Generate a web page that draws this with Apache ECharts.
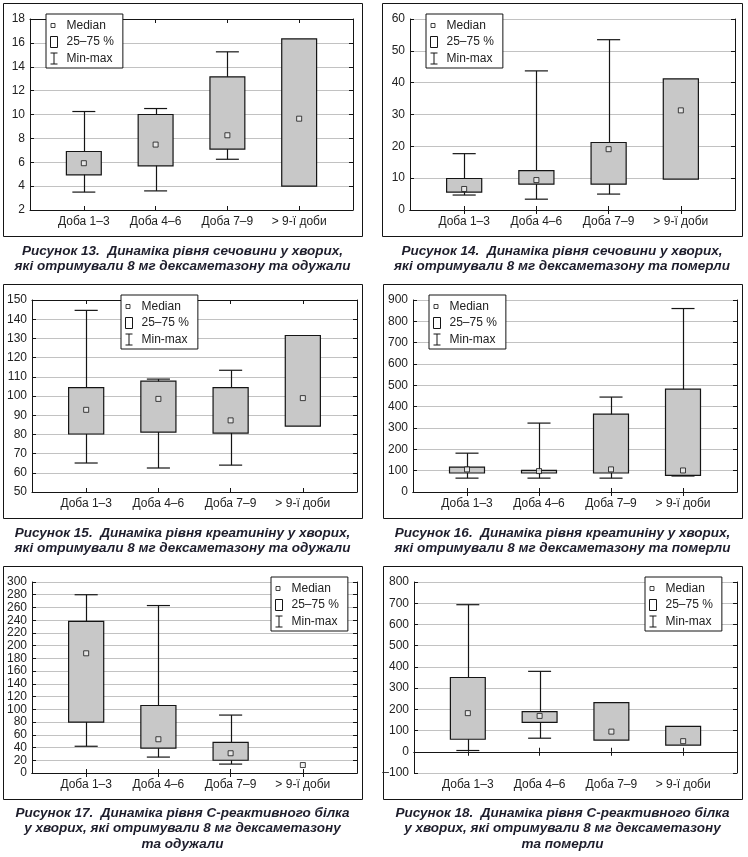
<!DOCTYPE html>
<html><head><meta charset="utf-8">
<script src="https://cdn.jsdelivr.net/npm/echarts@6/dist/echarts.min.js"></script>
<style>html,body{margin:0;padding:0;background:#fff}#c{width:748px;height:857px}</style>
</head><body><div id="c"></div><script>
// ---- data ----
const categories = ["Доба 1–3", "Доба 4–6", "Доба 7–9", "> 9-ї доби"];
const legendNames = ["Median", "25–75 %", "Min-max"];

// Рисунок 13 – сечовина, одужали
const p13Min = [3.5, 3.6, 6.25, null];
const p13Q1  = [4.95, 5.7, 7.1, 4.0];
const p13Med = [5.92, 7.48, 8.26, 9.65];
const p13Q3  = [6.9, 10.0, 13.16, 16.33];
const p13Max = [10.25, 10.5, 15.25, null];
const p13Axis = [2, 18, 2];

// Рисунок 14 – сечовина, померли
const p14Min = [4.7, 3.4, 5.0, null];
const p14Q1  = [5.6, 8.1, 8.1, 9.7];
const p14Med = [6.6, 9.4, 19.1, 31.3];
const p14Q3  = [9.9, 12.4, 21.2, 41.2];
const p14Max = [17.7, 43.7, 53.5, null];
const p14Axis = [0, 60, 10];

// Рисунок 15 – креатинін, одужали
const p15Min = [65.1, 62.5, 64.0, null];
const p15Q1  = [80.2, 81.2, 80.7, 84.3];
const p15Med = [92.8, 98.5, 87.3, 98.9];
const p15Q3  = [104.4, 107.7, 104.4, 131.5];
const p15Max = [144.6, 108.8, 113.4, null];
const p15Axis = [50, 150, 10];

// Рисунок 16 – креатинін, померли
const p16Min = [65, 65, 65, 75];
const p16Q1  = [89, 89, 89, 78];
const p16Med = [106, 98, 106, 101];
const p16Q3  = [117, 101, 365, 482];
const p16Max = [182, 323, 445, 860];
const p16Axis = [0, 900, 100];

// Рисунок 17 – С-реактивний білок, одужали
const p17Min = [42, 25, 14, null];
const p17Q1  = [80, 39, 20, null];
const p17Med = [188, 53, 31, 12.5];
const p17Q3  = [238, 106, 48, null];
const p17Max = [280, 263, 91, null];
const p17Axis = [0, 300, 20];

// Рисунок 18 – С-реактивний білок, померли
const p18Min = [6, 64, null, null];
const p18Q1  = [59, 139, 55, 31];
const p18Med = [182, 169, 95, 50];
const p18Q3  = [350, 189, 232, 120];
const p18Max = [693, 379, null, null];
const p18Axis = [-100, 800, 100];

const caption13 = ["Рисунок 13.  Динаміка рівня сечовини у хворих,", "які отримували 8 мг дексаметазону та одужали"];
const caption14 = ["Рисунок 14.  Динаміка рівня сечовини у хворих,", "які отримували 8 мг дексаметазону та померли"];
const caption15 = ["Рисунок 15.  Динаміка рівня креатиніну у хворих,", "які отримували 8 мг дексаметазону та одужали"];
const caption16 = ["Рисунок 16.  Динаміка рівня креатиніну у хворих,", "які отримували 8 мг дексаметазону та померли"];
const caption17 = ["Рисунок 17.  Динаміка рівня С-реактивного білка", "у хворих, які отримували 8 мг дексаметазону", "та одужали"];
const caption18 = ["Рисунок 18.  Динаміка рівня С-реактивного білка", "у хворих, які отримували 8 мг дексаметазону", "та померли"];

// ---- layout ----
const panels = [
  {min:p13Min,q1:p13Q1,med:p13Med,q3:p13Q3,max:p13Max,axis:p13Axis,cap:caption13,
   grid:{left:30,top:19,width:323,height:191}, leg:{left:46,top:14}, frame:[3,3,359,233], capX:182.5, capY:251},
  {min:p14Min,q1:p14Q1,med:p14Med,q3:p14Q3,max:p14Max,axis:p14Axis,cap:caption14,
   grid:{left:410,top:19,width:325,height:191}, leg:{left:426,top:14}, frame:[382,3,360,233], capX:562, capY:251},
  {min:p15Min,q1:p15Q1,med:p15Med,q3:p15Q3,max:p15Max,axis:p15Axis,cap:caption15,
   grid:{left:32,top:300,width:325,height:192}, leg:{left:121,top:295}, frame:[3,284,359,234], capX:182.5, capY:533},
  {min:p16Min,q1:p16Q1,med:p16Med,q3:p16Q3,max:p16Max,axis:p16Axis,cap:caption16,
   grid:{left:413,top:300,width:324,height:192}, leg:{left:429,top:295}, frame:[383,284,359,234], capX:562.5, capY:533},
  {min:p17Min,q1:p17Q1,med:p17Med,q3:p17Q3,max:p17Max,axis:p17Axis,cap:caption17,
   grid:{left:32,top:582,width:325,height:191}, leg:{left:271,top:577}, frame:[3,566,359,233], capX:182.5, capY:813},
  {min:p18Min,q1:p18Q1,med:p18Med,q3:p18Q3,max:p18Max,axis:p18Axis,cap:caption18,
   grid:{left:414,top:582,width:323,height:191}, leg:{left:645,top:577}, frame:[383,566,359,233], capX:562.5, capY:813}
];

const X_MIN = 0.25, X_MAX = 4.75, BOX = 0.243, CAPW = 0.16;
const INK = '#151515';
const FONT = 'Liberation Sans, Arial, sans-serif';
const positions = categories.map((c, i) => i + 1);

function renderWhisker(params, api) {
  const x = api.value(0), lo = api.value(1), hi = api.value(2);
  const a = api.coord([x, lo]), b = api.coord([x, hi]);
  const l = api.coord([x - CAPW, lo])[0], r = api.coord([x + CAPW, lo])[0];
  const cx = Math.round(a[0]) + 0.5;
  const st = {stroke: INK, lineWidth: 1.2};
  return {type: 'group', children: [
    {type: 'line', shape: {x1: cx, y1: a[1], x2: cx, y2: b[1]}, style: st},
    {type: 'line', shape: {x1: l, y1: a[1], x2: r, y2: a[1]}, style: st},
    {type: 'line', shape: {x1: l, y1: b[1], x2: r, y2: b[1]}, style: st}
  ]};
}
function renderBox(params, api) {
  const x = api.value(0), q1 = api.value(1), q3 = api.value(2);
  const p1 = api.coord([x - BOX, q3]), p2 = api.coord([x + BOX, q1]);
  return {type: 'rect', shape: {x: p1[0], y: p1[1], width: p2[0] - p1[0], height: p2[1] - p1[1]},
    style: {fill: '#c8c8c8', stroke: INK, lineWidth: 1.2}};
}

const ICON_MED = 'path://M0,0M15,12M4.5,4L8.5,4L8.5,8L4.5,8Z';
const ICON_BOX = 'path://M0,0M15,12M4,0.5L11,0.5L11,11.5L4,11.5Z';
const ICON_WHI = 'path://M0,0M15,12M7.5,0.5L7.5,11.5M4,0.5L11,0.5M4,11.5L11,11.5';

const grid = [], xAxis = [], yAxis = [], series = [], legend = [], graphic = [];
panels.forEach((p, i) => {
  grid.push(Object.assign({containLabel: false}, p.grid));
  const xBase = {type: 'value', gridIndex: i, min: X_MIN, max: X_MAX,
    axisLine: {show: true, lineStyle: {color: INK, width: 1}},
    splitLine: {show: false}};
  xAxis.push(Object.assign({}, xBase, {position: 'bottom',
    axisTick: {show: true, inside: true, length: 4, lineStyle: {color: INK}, customValues: positions},
    axisLabel: {show: true, margin: 6, fontSize: 12, color: '#222', fontFamily: FONT,
      customValues: positions, formatter: v => categories[Math.round(v) - 1] || ''}}));
  xAxis.push(Object.assign({}, xBase, {position: 'top',
    axisTick: {show: true, inside: true, length: 4, lineStyle: {color: INK}, customValues: positions},
    axisLabel: {show: false}}));
  const yBase = {type: 'value', gridIndex: i, min: p.axis[0], max: p.axis[1], interval: p.axis[2],
    axisLine: {show: true, lineStyle: {color: INK, width: 1}},
    axisTick: {show: true, inside: true, length: 4, lineStyle: {color: INK}}};
  yAxis.push(Object.assign({}, yBase, {position: 'left',
    splitLine: {show: true, lineStyle: {color: '#c2c2c2', width: 1}},
    axisLabel: {margin: 5, fontSize: 12, color: '#222', fontFamily: FONT, formatter: v => String(v).replace('-', '–')}}));
  yAxis.push(Object.assign({}, yBase, {position: 'right', splitLine: {show: false}, axisLabel: {show: false}}));

  const whiskData = positions.map((x, k) => [x, p.min[k], p.max[k]]).filter(d => d[1] != null && d[2] != null);
  const boxData = positions.map((x, k) => [x, p.q1[k], p.q3[k]]).filter(d => d[1] != null && d[2] != null);
  const medData = positions.map((x, k) => [x, p.med[k]]);
  series.push({type: 'custom', name: 'Min-max', xAxisIndex: 2 * i, yAxisIndex: 2 * i,
    renderItem: renderWhisker, encode: {x: 0, y: [1, 2]}, data: whiskData, z: 2});
  series.push({type: 'custom', name: '25–75 %', xAxisIndex: 2 * i, yAxisIndex: 2 * i,
    renderItem: renderBox, encode: {x: 0, y: [1, 2]}, data: boxData, z: 3});
  series.push({type: 'scatter', name: 'Median', xAxisIndex: 2 * i, yAxisIndex: 2 * i,
    symbol: 'rect', symbolSize: 5, data: medData, z: 4,
    itemStyle: {color: '#eeeeee', borderColor: INK, borderWidth: 1}});

  legend.push({left: p.leg.left, top: p.leg.top, orient: 'vertical', selectedMode: false,
    itemWidth: 15, itemHeight: 12, itemGap: 3.5, padding: [5, 9, 3, 0],
    borderColor: INK, borderWidth: 1, backgroundColor: '#fff', z: 10,
    textStyle: {fontSize: 12, color: '#222', fontFamily: FONT},
    itemStyle: {color: '#fff', borderColor: INK, borderWidth: 1},
    data: [{name: 'Median', icon: ICON_MED}, {name: '25–75 %', icon: ICON_BOX}, {name: 'Min-max', icon: ICON_WHI}]});

  const f = p.frame;
  graphic.push({type: 'rect', shape: {x: f[0] + 0.5, y: f[1] + 0.5, width: f[2], height: f[3]},
    style: {fill: null, stroke: INK, lineWidth: 1}, silent: true});
  p.cap.forEach((line, k) => {
    graphic.push({type: 'text', x: p.capX, y: p.capY + k * 15.5,
      style: {text: line, textAlign: 'center', textVerticalAlign: 'middle',
        font: 'italic bold 13.5px "Liberation Sans", Arial, sans-serif', fill: '#1d1d2b'}});
  });
});

const chart = echarts.init(document.getElementById('c'), null, {renderer: 'canvas'});
chart.setOption({animation: false, backgroundColor: '#fff', grid, xAxis, yAxis, series, legend, graphic});
</script></body></html>
